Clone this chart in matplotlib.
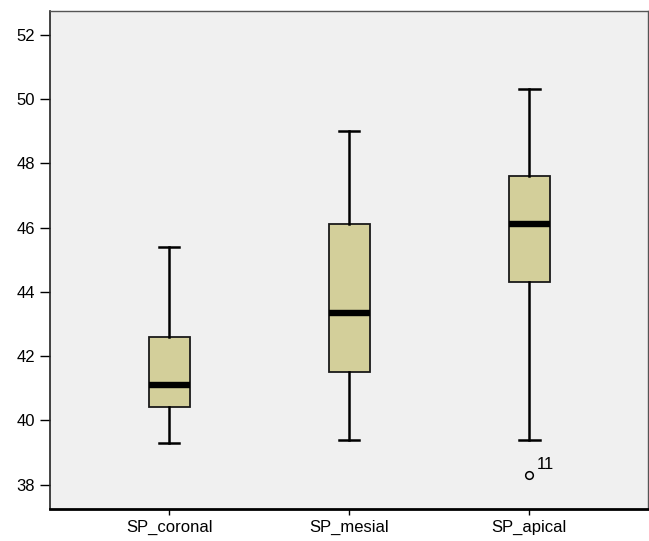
import matplotlib
matplotlib.use("Agg")
import matplotlib.pyplot as plt

categories = ["SP_coronal", "SP_mesial", "SP_apical"]
whisker_low = [39.3, 39.4, 39.4]
q1 = [40.4, 41.5, 44.3]
median = [41.1, 43.35, 46.1]
q3 = [42.6, 46.1, 47.6]
whisker_high = [45.4, 49.0, 50.3]
outlier_values = [[], [], [38.3]]
outlier_labels = [[], [], ["11"]]
yticks = [38, 40, 42, 44, 46, 48, 50, 52]

plt.rcParams['font.family'] = ['Liberation Sans', 'DejaVu Sans']

fig = plt.figure(figsize=(6.49, 5.41), dpi=100)
ax = fig.add_axes([0.0763, 0.0591, 0.9222, 0.9213])
ax.set_facecolor("#f0f0f0")

stats = []
for i, c in enumerate(categories):
    stats.append(dict(label=c, whislo=whisker_low[i], q1=q1[i], med=median[i],
                      q3=q3[i], whishi=whisker_high[i], fliers=outlier_values[i]))

positions = [1, 2, 3]
ax.bxp(stats, positions=positions, widths=0.228, patch_artist=True, showfliers=True,
       boxprops=dict(facecolor="#d3cf9a", edgecolor="#1a1a1a", linewidth=1.3),
       medianprops=dict(color="black", linewidth=4.6, solid_capstyle="butt"),
       whiskerprops=dict(color="black", linewidth=1.8),
       capprops=dict(color="black", linewidth=1.8),
       capwidths=0.115,
       flierprops=dict(marker="o", markersize=5.5, markerfacecolor="none",
                       markeredgecolor="black", markeredgewidth=1.1))

for i, (vals, labs) in enumerate(zip(outlier_values, outlier_labels)):
    for v, l in zip(vals, labs):
        ax.annotate(l, (positions[i], v), xytext=(5.5, 4.5), textcoords="offset points",
                    fontsize=12, ha="left", va="baseline")

ax.set_xlim(0.336, 3.66)
ax.set_ylim(37.24, 52.75)
ax.set_yticks(yticks)
ax.set_yticklabels([str(t) for t in yticks])
ax.set_xticks(positions)
ax.set_xticklabels(categories)
ax.tick_params(axis="y", direction="out", length=7, width=1, labelsize=12, color="black", pad=3.5)
ax.tick_params(axis="x", direction="out", length=4.5, width=1, labelsize=12, color="black", pad=3)

for s in ["top", "right"]:
    ax.spines[s].set_color("#555555")
    ax.spines[s].set_linewidth(1.0)
ax.spines["left"].set_color("#222222")
ax.spines["left"].set_linewidth(1.2)
ax.spines["bottom"].set_color("black")
ax.spines["bottom"].set_linewidth(2.0)

fig.savefig("out.png", dpi=100, facecolor="white")
